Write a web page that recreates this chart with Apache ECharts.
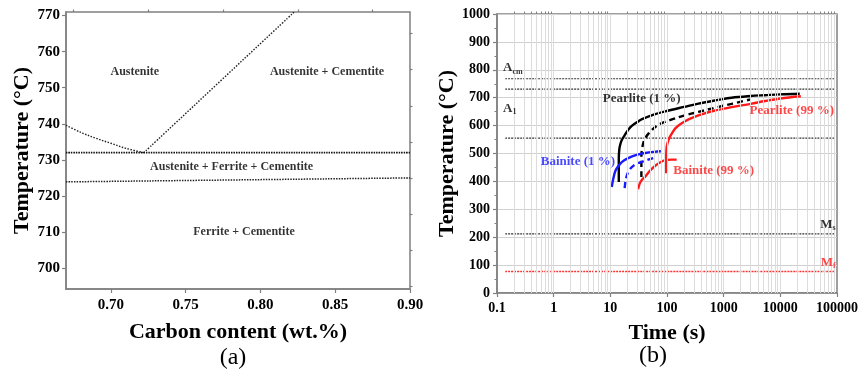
<!DOCTYPE html>
<html><head><meta charset="utf-8">
<script src="https://cdn.jsdelivr.net/npm/echarts@6/dist/echarts.min.js"></script>
<style>html,body{margin:0;padding:0;background:#fff}#c{width:861px;height:374px}</style>
</head><body><div id="c"></div><script>
// ---------------- Panel (a): phase diagram ----------------
const aXTicks = [0.70, 0.75, 0.80, 0.85, 0.90];
const aXMinor = [0.675, 0.725, 0.775, 0.825, 0.875];
const aYTicks = [700, 710, 720, 730, 740, 750, 760, 770];
const aYMinor = [695, 705, 715, 725, 735, 745, 755, 765];
const aFerriteBoundary = [[0.67, 739.6], [0.68, 737.6], [0.69, 736.0], [0.70, 734.6], [0.71, 733.2], [0.722, 732.0]];
const aCementiteBoundary = [[0.722, 732.0], [0.8226, 771]];
const aUpperEutectoid = [[0.67, 732.0], [0.90, 732.0]];
const aLowerEutectoid = [[0.67, 723.9], [0.90, 725.0]];
const aRegionNames = ['Austenite', 'Austenite + Cementite', 'Austenite + Ferrite + Cementite', 'Ferrite + Cementite'];
const aRegionAt = [[0.716, 754.3], [0.8445, 754.3], [0.7807, 728.1], [0.789, 710.1]];

// ---------------- Panel (b): TTT diagram ----------------
const bXTicks = [0.1, 1, 10, 100, 1000, 10000, 100000];
const bYTicks = [0, 100, 200, 300, 400, 500, 600, 700, 800, 900, 1000];
const bLevelNames = ['Acm', 'A1', 'Bs', 'Ms', 'Mf'];
const bLevelTemps = [768, 731, 555, 212, 77];
const bLevelSpan = [0.14, 90000];
const bPearlite1 = [[14.1, 398], [14.1, 480], [14.4, 515], [15.1, 535], [16.1, 550], [18.5, 570], [21.2, 588], [24.2, 600], [31.6, 616], [36.2, 623], [60, 640], [93, 651], [200, 667], [359, 679], [800, 692], [1381, 700], [3000, 706], [5370, 709], [10000, 712], [22000, 714]];
const bPearlite50 = [[35.3, 416], [35.3, 490], [36.5, 520], [38.5, 540], [41.6, 556], [47.5, 572], [62, 595], [80, 608], [122, 622], [200, 636], [359, 649], [700, 664], [1381, 678], [3000, 694]];
const bPearlite99 = [[96, 429], [96, 470], [97, 500], [99, 525], [103, 540], [110, 556], [122, 572], [140, 590], [171, 605], [250, 624], [359, 637], [700, 654], [1381, 666], [3000, 678], [5370, 688], [10000, 697], [23000, 705]];
const bBainite1 = [[10.6, 380], [11.3, 410], [12.3, 438], [14, 456], [16.1, 470], [20, 482], [24.2, 490], [31.6, 497], [41.6, 502], [60, 506], [78, 508]];
const bBainite50 = [[17.9, 376], [18.5, 400], [19.7, 423], [21.5, 440], [24.2, 452], [29, 463], [36.2, 470], [48, 479], [65, 487]];
const bBainite99 = [[30.8, 372], [33, 392], [36, 405], [41.6, 418], [50, 438], [62, 456], [75, 468], [93, 476], [120, 478], [148, 478]];
const bCurveNames = ['Pearlite (1 %)', 'Pearlite (99 %)', 'Bainite (1 %)', 'Bainite (99 %)'];
const bCurveNameAt = [[35.8, 695], [15900, 655], [2.68, 472], [667, 438]];
const bLevelLabelAt = [[0.128, 806], [0.128, 662], [95000, 246], [95000, 110]];

// minor log positions (2..9 in every decade)
const bXMinor = [];
for (let d = 0; d < 6; d++) for (let m = 2; m <= 9; m++) bXMinor.push(+(m * Math.pow(10, d - 1)).toPrecision(6));

const SERIF = '"Liberation Serif", "Times New Roman", serif';
const FRAME = '#808080';
const RED = '#ff1a1a', BLUE = '#1a1aff';

const chart = echarts.init(document.getElementById('c'), null, {renderer: 'canvas'});

function lineS(xi, yi, data, color, type, width) {
  return {type: 'line', xAxisIndex: xi, yAxisIndex: yi, data: data, showSymbol: false, symbol: 'none',
    smooth: 0.35, silent: true, animation: false, color: color,
    itemStyle: {color: color},
    lineStyle: {color: color, type: type, width: width}};
}
function labelS(xi, yi, points, texts, opts) {
  return {type: 'scatter', xAxisIndex: xi, yAxisIndex: yi, symbolSize: 1, silent: true, animation: false, z: 5,
    itemStyle: {color: 'rgba(0,0,0,0)'},
    data: points.map((p, i) => ({value: p, label: Object.assign({show: true, position: 'inside',
      formatter: texts[i], fontFamily: SERIF, fontWeight: 'bold', fontSize: 12, color: '#000',
      textBorderWidth: 0, textBorderColor: 'transparent'}, opts[i] || {})}))};
}

const series = [
  // panel a
  lineS(0, 0, aFerriteBoundary, '#222', [1.5, 1.5], 1.4),
  lineS(0, 0, aCementiteBoundary, '#222', [1.5, 1.5], 1.4),
  lineS(0, 0, aUpperEutectoid, '#111', [1.5, 1], 1.8),
  lineS(0, 0, aLowerEutectoid, '#222', [1.5, 1.2], 1.5),
  labelS(0, 0, aRegionAt, aRegionNames, []),
];
// panel b level lines
bLevelTemps.forEach((t, i) => {
  const isMf = bLevelNames[i] === 'Mf';
  series.push(lineS(2, 2, [[bLevelSpan[0], t], [bLevelSpan[1], t]], isMf ? '#ff3030' : '#333', [2, 1], isMf ? 1.4 : 1.2));
});
// vertical grid lines (log)
series.push({type: 'line', xAxisIndex: 2, yAxisIndex: 2, data: [], silent: true, animation: false, z: 1,
  markLine: {silent: true, symbol: 'none', animation: false, label: {show: false},
    lineStyle: {color: '#dcdcdc', type: 'solid', width: 1},
    data: bXTicks.concat(bXMinor).filter(v => v > 0.1 && v < 100000).map(v => ({xAxis: v}))}});
series.push(lineS(2, 2, bPearlite1, '#000', 'solid', 2.4));
series.push(lineS(2, 2, bPearlite50, '#000', [6, 4], 2.4));
series.push(lineS(2, 2, bPearlite99, RED, 'solid', 2.4));
series.push(lineS(2, 2, bBainite1, BLUE, 'solid', 2.4));
series.push(lineS(2, 2, bBainite50, BLUE, [6, 4], 2.4));
series.push(lineS(2, 2, bBainite99, RED, 'solid', 2.4));
series.push(labelS(2, 2, bCurveNameAt, bCurveNames, [
  {fontSize: 13}, {fontSize: 13, color: RED}, {fontSize: 13, color: BLUE}, {fontSize: 13, color: RED}]));
const subRich = (c) => ({a: {fontSize: 13, fontFamily: SERIF, fontWeight: 'bold', color: c},
  s: {fontSize: 8, fontFamily: SERIF, fontWeight: 'bold', color: c, padding: [7, 0, 0, 0]}});
series.push(labelS(2, 2, bLevelLabelAt, ['{a|A}{s|cm}', '{a|A}{s|1}', '{a|M}{s|s}', '{a|M}{s|f}'], [
  {align: 'left', rich: subRich('#000')},
  {align: 'left', rich: subRich('#000')},
  {align: 'right', rich: subRich('#000')},
  {align: 'right', color: RED, rich: subRich(RED)}
]));

const tickLbl = (size) => ({fontFamily: SERIF, fontWeight: 'bold', fontSize: size, color: '#000'});
const nameStyle = {fontFamily: SERIF, fontWeight: 'bold', fontSize: 22, color: '#000'};

const option = {
  animation: false,
  backgroundColor: '#fff',
  grid: [
    {left: 66, top: 12, width: 344, height: 277, show: true, borderColor: FRAME, borderWidth: 1.5, backgroundColor: 'transparent'},
    {left: 497, top: 14, width: 341, height: 279, show: true, borderColor: FRAME, borderWidth: 1.5, backgroundColor: 'transparent'}
  ],
  xAxis: [
    {type: 'value', gridIndex: 0, min: 0.67, max: 0.90,
      name: 'Carbon content (wt.%)', nameLocation: 'middle', nameGap: 32, nameTextStyle: nameStyle,
      axisLine: {lineStyle: {color: FRAME, width: 1.5}},
      axisTick: {customValues: aXTicks, length: 4, lineStyle: {color: FRAME, width: 1.2}},
      axisLabel: Object.assign({customValues: aXTicks, margin: 9, formatter: v => v.toFixed(2)}, tickLbl(15)),
      splitLine: {show: false}},
    {type: 'value', gridIndex: 0, min: 0.67, max: 0.90, axisLine: {show: false},
      axisTick: {customValues: aXMinor, length: 2.5, lineStyle: {color: FRAME, width: 1.2}},
      axisLabel: {show: false}, splitLine: {show: false}},
    {type: 'log', gridIndex: 1, min: 0.1, max: 100000, logBase: 10,
      name: 'Time (s)', nameLocation: 'middle', nameGap: 29, nameTextStyle: nameStyle,
      axisLine: {lineStyle: {color: FRAME, width: 1.5}},
      axisTick: {customValues: bXTicks, length: 4, lineStyle: {color: FRAME, width: 1.2}},
      axisLabel: Object.assign({customValues: bXTicks, margin: 8, formatter: v => String(+(+v).toPrecision(6))}, tickLbl(14)),
      splitLine: {show: false}},
    {type: 'log', gridIndex: 1, min: 0.1, max: 100000, logBase: 10, axisLine: {show: false},
      axisTick: {customValues: bXMinor, length: 2.5, lineStyle: {color: FRAME, width: 1}},
      axisLabel: {show: false}, splitLine: {show: false}}
  ],
  yAxis: [
    {type: 'value', gridIndex: 0, min: 694.2, max: 771,
      name: 'Temperature (\u00B0C)', nameLocation: 'middle', nameGap: 32, nameTextStyle: nameStyle,
      axisLine: {lineStyle: {color: FRAME, width: 1.5}},
      axisTick: {customValues: aYTicks, length: 4, lineStyle: {color: FRAME, width: 1.2}},
      axisLabel: Object.assign({customValues: aYTicks, margin: 6, formatter: v => String(v)}, tickLbl(15)),
      splitLine: {show: false}},
    {type: 'value', gridIndex: 0, min: 694.2, max: 771, axisLine: {show: false},
      axisTick: {customValues: aYMinor, length: 2.5, lineStyle: {color: FRAME, width: 1.2}},
      axisLabel: {show: false}, splitLine: {show: false}},
    {type: 'value', gridIndex: 1, min: 0, max: 1000, interval: 100,
      name: 'Temperature (\u00B0C)', nameLocation: 'middle', nameGap: 34, nameTextStyle: nameStyle,
      axisLine: {lineStyle: {color: FRAME, width: 1.5}},
      axisTick: {length: 4, lineStyle: {color: FRAME, width: 1.2}},
      minorTick: {show: true, splitNumber: 2, length: 2.5, lineStyle: {color: FRAME, width: 1}},
      axisLabel: Object.assign({margin: 7, formatter: v => String(v)}, tickLbl(14)),
      splitLine: {show: true, lineStyle: {color: '#d0d0d0', width: 1.2}}}
  ],
  series: series,
  graphic: [
    {type: 'text', x: 233, y: 358, style: {text: '(a)', font: '24px ' + SERIF, fill: '#000', align: 'center', verticalAlign: 'middle'}},
    {type: 'text', x: 653, y: 356, style: {text: '(b)', font: '24px ' + SERIF, fill: '#000', align: 'center', verticalAlign: 'middle'}}
  ]
};
chart.setOption(option);
</script></body></html>
